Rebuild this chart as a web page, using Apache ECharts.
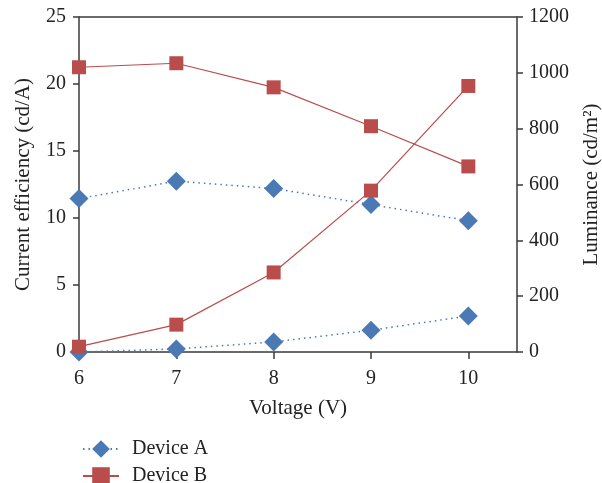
<!DOCTYPE html>
<html>
<head>
<meta charset="UTF-8">
<title>Device A / Device B</title>
<script src="https://cdn.jsdelivr.net/npm/echarts@6/dist/echarts.min.js"></script>
<style>
    html, body { margin: 0; padding: 0; background: #fff; }
    #chart { width: 602px; height: 483px; }
</style>
</head>
<body>
<div id="chart"></div>
<script type="text/javascript">
    // data
    var voltage = [6, 7, 8, 9, 10];
    var effA = [11.45, 12.75, 12.2, 11.0, 9.8];
    var effB = [21.25, 21.55, 19.75, 16.85, 13.85];
    var lumA = [0, 11, 36, 78, 129];
    var lumB = [19, 98, 285, 578, 953];
    var xTicks = [6, 7, 8, 9, 10];

    var blue = '#4a79b4';
    var red = '#b94d4b';
    var font = 'Liberation Serif';
    var fontSize = 20;
    var axisColor = '#3a3a3a';
    var textColor = '#222';

    function pairs(xs, ys) {
        return xs.map(function (x, i) { return [x, ys[i]]; });
    }

    function legendItem(name, top) {
        return {
            orient: 'vertical',
            left: 77,
            top: top,
            itemWidth: 36,
            itemHeight: 22,
            data: [name],
            textStyle: {fontFamily: font, fontSize: fontSize, color: textColor, padding: [0, 0, 0, 8]}
        };
    }

    var labelStyle = {fontFamily: font, fontSize: fontSize, color: textColor};
    var nameStyle = {fontFamily: font, fontSize: 21, color: textColor};

    var chart = echarts.init(document.getElementById('chart'));
    var option = {
        animation: false,
        textStyle: {fontFamily: font},
        grid: {left: 79, right: 85, top: 17, bottom: 131, outerBoundsMode: 'none', containLabel: false},
        legend: [legendItem('Device A', 434), legendItem('Device B', 461)],
        xAxis: {
            type: 'value',
            min: 6,
            max: 10.5,
            interval: 1,
            name: 'Voltage (V)',
            nameLocation: 'middle',
            nameGap: 46,
            nameTextStyle: nameStyle,
            axisLine: {lineStyle: {color: axisColor, width: 1.5}},
            axisTick: {show: true, length: 7, customValues: xTicks, lineStyle: {color: axisColor, width: 1.5}},
            axisLabel: Object.assign({customValues: xTicks, margin: 17}, labelStyle),
            splitLine: {show: false}
        },
        yAxis: [{
            type: 'value',
            min: 0,
            max: 25,
            interval: 5,
            name: 'Current efficiency (cd/A)',
            nameLocation: 'middle',
            nameGap: 45,
            nameTextStyle: nameStyle,
            axisLine: {show: true, lineStyle: {color: axisColor, width: 1.5}},
            axisTick: {show: true, length: 6, lineStyle: {color: axisColor, width: 1.5}},
            axisLabel: Object.assign({margin: 13}, labelStyle),
            splitLine: {show: false}
        }, {
            type: 'value',
            min: 0,
            max: 1200,
            interval: 200,
            position: 'right',
            name: 'Luminance (cd/m²)',
            nameLocation: 'middle',
            nameGap: 64,
            nameTextStyle: nameStyle,
            axisLine: {show: true, lineStyle: {color: axisColor, width: 1.5}},
            axisTick: {show: true, length: 6, lineStyle: {color: axisColor, width: 1.5}},
            axisLabel: Object.assign({margin: 12, formatter: function (v) { return String(v); }}, labelStyle),
            splitLine: {show: false}
        }],
        series: [
            {
                name: 'Device A', type: 'line', yAxisIndex: 0,
                data: pairs(voltage, effA),
                symbol: 'diamond', symbolSize: 19,
                itemStyle: {color: blue},
                lineStyle: {color: blue, width: 1.5, type: [1.5, 4]}
            },
            {
                name: 'Device B', type: 'line', yAxisIndex: 0,
                data: pairs(voltage, effB),
                symbol: 'rect', symbolSize: 14,
                itemStyle: {color: red},
                lineStyle: {color: red, width: 1.2}
            },
            {
                name: 'Device A', type: 'line', yAxisIndex: 1,
                data: pairs(voltage, lumA),
                symbol: 'diamond', symbolSize: 19,
                itemStyle: {color: blue},
                lineStyle: {color: blue, width: 1.5, type: [1.5, 4]}
            },
            {
                name: 'Device B', type: 'line', yAxisIndex: 1,
                data: pairs(voltage, lumB),
                symbol: 'rect', symbolSize: 14,
                itemStyle: {color: red},
                lineStyle: {color: red, width: 1.2}
            }
        ]
    };
    chart.setOption(option);

    // top border of the plot box, taken from the grid rect
    var rect = chart.getModel().getComponent('grid').coordinateSystem.getRect();
    chart.setOption({
        graphic: [{
            type: 'line',
            shape: {x1: rect.x, y1: rect.y, x2: rect.x + rect.width, y2: rect.y},
            style: {stroke: axisColor, lineWidth: 1.5}
        }]
    });
</script>
</body>
</html>
